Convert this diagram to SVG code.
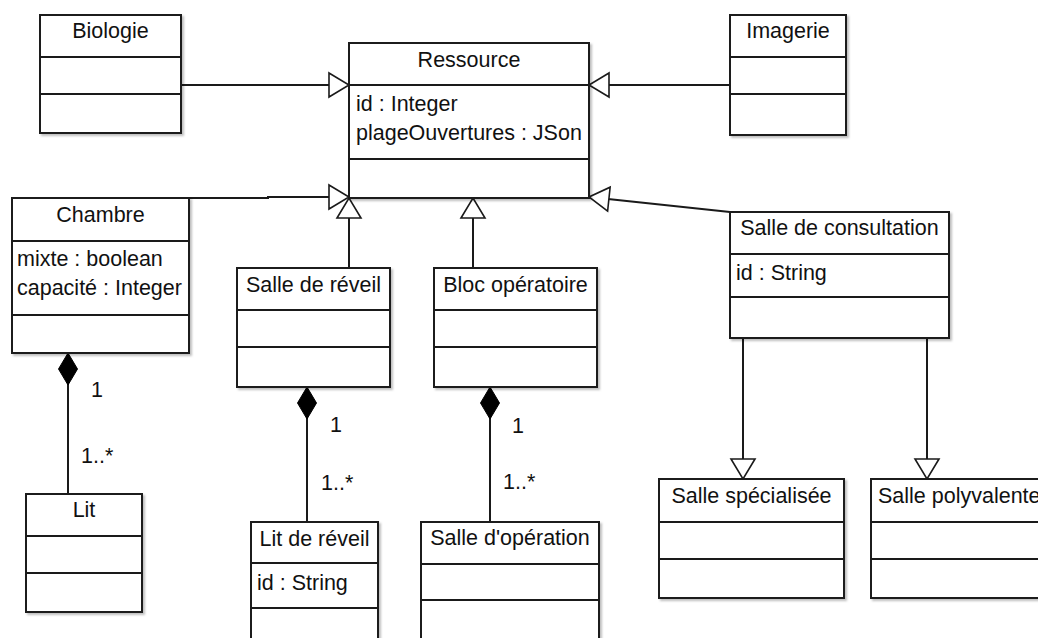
<svg xmlns="http://www.w3.org/2000/svg" width="1038" height="638" viewBox="0 0 1038 638">
  <style>
    .box { fill: #ffffff; stroke: #1a1a1a; stroke-width: 2; filter: url(#shadow); }
    .div { stroke: #1a1a1a; stroke-width: 2; fill: none; }
    .t { font-family: "Liberation Sans", Arial, sans-serif; font-size: 21.5px; fill: #111111; }
    .c { text-anchor: middle; }
    .edge { stroke: #1a1a1a; stroke-width: 2; fill: none; }
    .gen { marker-end: url(#hollow); }
    .comp { marker-start: url(#diamond); }
  </style>
  <defs>
    <filter id="shadow" x="-10%" y="-10%" width="130%" height="130%">
      <feDropShadow dx="2" dy="2" stdDeviation="1.2" flood-color="#000000" flood-opacity="0.25"/>
    </filter>
    <marker id="hollow" markerUnits="userSpaceOnUse" markerWidth="24" markerHeight="28" refX="21" refY="13" orient="auto" overflow="visible">
      <path d="M1,1 L21,13 L1,25 Z" fill="#ffffff" stroke="#1a1a1a" stroke-width="1.6"/>
    </marker>
    <marker id="diamond" markerUnits="userSpaceOnUse" markerWidth="36" markerHeight="22" refX="1" refY="10" orient="auto" overflow="visible">
      <path d="M1,10 L17,0.5 L33,10 L17,19.5 Z" fill="#000000" stroke="#000000" stroke-width="1"/>
    </marker>
  </defs>

  <g id="connectors">
    <path class="edge gen" d="M181,85 L349,85"/>
    <path class="edge gen" d="M730,85 L589,85"/>
    <path class="edge gen" d="M189,198 L268,198 L268,197 L349,197"/>
    <path class="edge gen" d="M349,268 L349,198"/>
    <path class="edge gen" d="M473,268 L473,198"/>
    <path class="edge gen" d="M730,212 L608,199 L589,197"/>
    <path class="edge gen" d="M743,338 L743,479"/>
    <path class="edge gen" d="M927,338 L927,479"/>
    <path class="edge comp" d="M68,353 L68,494"/>
    <path class="edge comp" d="M307,387 L307,522"/>
    <path class="edge comp" d="M490,387 L490,522"/>
    <text class="t" x="91" y="397">1</text>
    <text class="t" x="81" y="463">1..*</text>
    <text class="t" x="330" y="432">1</text>
    <text class="t" x="321" y="490">1..*</text>
    <text class="t" x="512" y="433">1</text>
    <text class="t" x="503" y="489">1..*</text>
  </g>

  <g id="biologie">
    <rect class="box" x="40" y="15" width="141" height="118"/>
    <path class="div" d="M40,57 H181 M40,94 H181"/>
    <text class="t c" x="110.5" y="38">Biologie</text>
  </g>

  <g id="ressource">
    <rect class="box" x="349" y="43" width="240" height="155"/>
    <path class="div" d="M349,85 H589 M349,159 H589"/>
    <text class="t c" x="469" y="67">Ressource</text>
    <text class="t" x="356" y="111">id : Integer</text>
    <text class="t" x="356" y="140">plageOuvertures : JSon</text>
  </g>

  <g id="imagerie">
    <rect class="box" x="730" y="15" width="116" height="120"/>
    <path class="div" d="M730,57 H846 M730,94 H846"/>
    <text class="t c" x="788" y="38">Imagerie</text>
  </g>

  <g id="chambre">
    <rect class="box" x="12" y="198" width="177" height="155"/>
    <path class="div" d="M12,241 H189 M12,315 H189"/>
    <text class="t c" x="100.5" y="222">Chambre</text>
    <text class="t" x="17" y="266">mixte : boolean</text>
    <text class="t" x="17" y="295">capacité : Integer</text>
  </g>

  <g id="salle-reveil">
    <rect class="box" x="237" y="268" width="153" height="119"/>
    <path class="div" d="M237,310 H390 M237,347 H390"/>
    <text class="t c" x="313.5" y="292">Salle de réveil</text>
  </g>

  <g id="bloc-operatoire">
    <rect class="box" x="434" y="268" width="163" height="119"/>
    <path class="div" d="M434,310 H597 M434,347 H597"/>
    <text class="t c" x="515.5" y="292">Bloc opératoire</text>
  </g>

  <g id="salle-consultation">
    <rect class="box" x="730" y="212" width="219" height="126"/>
    <path class="div" d="M730,254 H949 M730,297 H949"/>
    <text class="t c" x="839.5" y="235">Salle de consultation</text>
    <text class="t" x="736" y="280">id : String</text>
  </g>

  <g id="lit">
    <rect class="box" x="26" y="494" width="116" height="118"/>
    <path class="div" d="M26,536 H142 M26,573 H142"/>
    <text class="t c" x="84" y="517">Lit</text>
  </g>

  <g id="lit-reveil">
    <rect class="box" x="251" y="522" width="127" height="130"/>
    <path class="div" d="M251,563 H378 M251,608 H378"/>
    <text class="t c" x="314.5" y="546">Lit de réveil</text>
    <text class="t" x="257" y="590">id : String</text>
  </g>

  <g id="salle-operation">
    <rect class="box" x="421" y="522" width="178" height="130"/>
    <path class="div" d="M421,564 H599 M421,600 H599"/>
    <text class="t c" x="510" y="545">Salle d'opération</text>
  </g>

  <g id="salle-specialisee">
    <rect class="box" x="659" y="479" width="185" height="119"/>
    <path class="div" d="M659,522 H844 M659,559 H844"/>
    <text class="t c" x="751.5" y="503">Salle spécialisée</text>
  </g>

  <g id="salle-polyvalente">
    <rect class="box" x="871" y="479" width="185" height="119"/>
    <path class="div" d="M871,522 H1056 M871,559 H1056"/>
    <text class="t" x="878" y="503">Salle polyvalente</text>
  </g>
</svg>
